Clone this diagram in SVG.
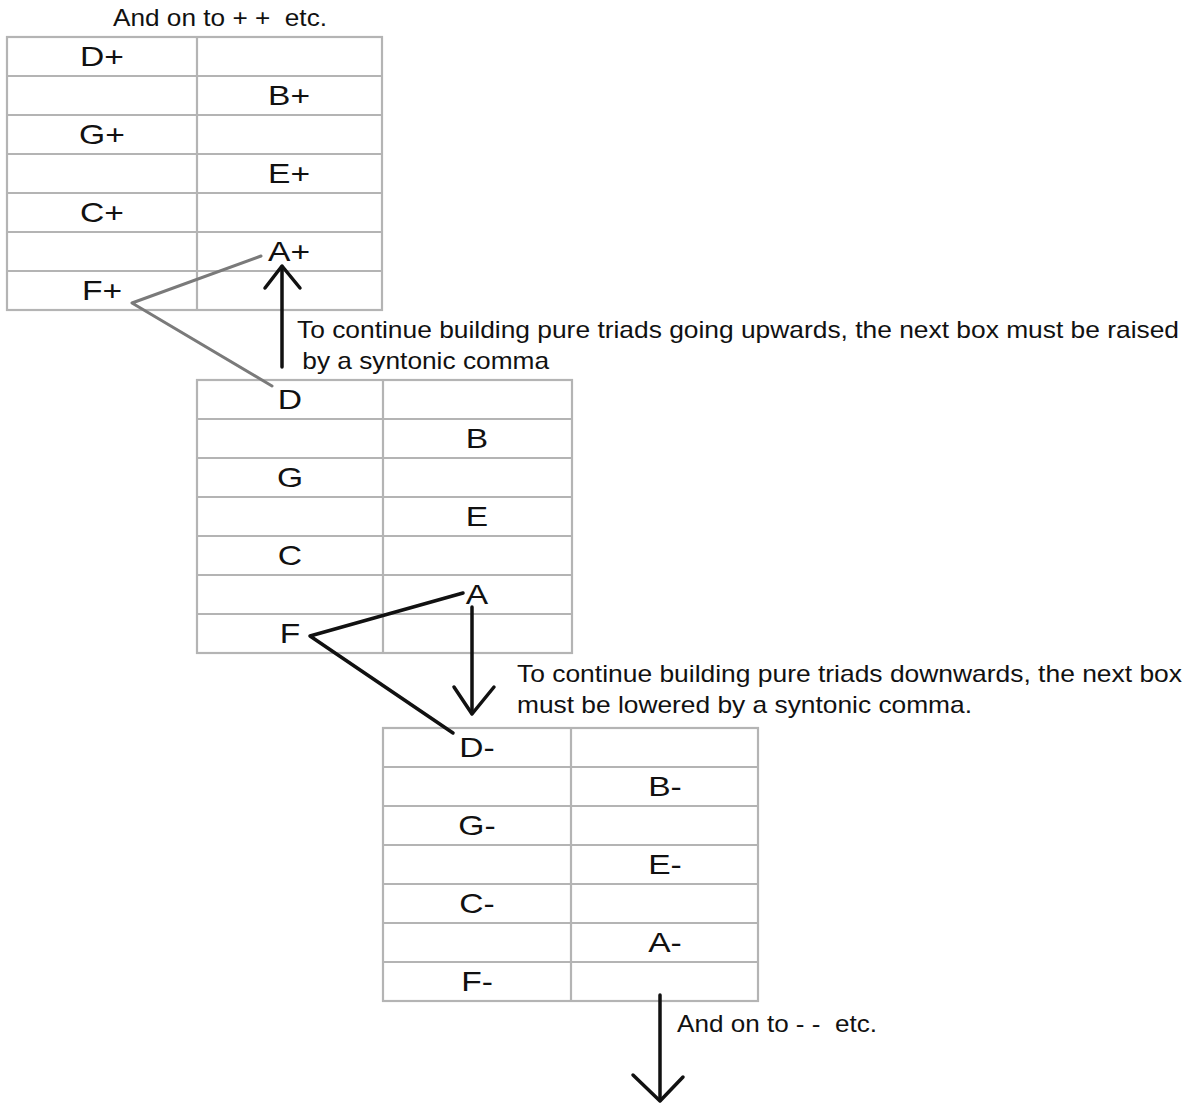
<svg xmlns="http://www.w3.org/2000/svg" width="1192" height="1108" viewBox="0 0 1192 1108">
<style>
.grid{fill:none;stroke:#b4b4b4;stroke-width:2.2}
.lbl{font-family:"Liberation Sans",Arial,sans-serif;font-size:28px;fill:#111;text-anchor:middle}
.txt{font-family:"Liberation Sans",Arial,sans-serif;font-size:24px;fill:#111}
.conn{fill:none;stroke-linecap:round;stroke-linejoin:round}
</style>
<defs>
<g id="tbl">
<rect class="grid" x="0" y="0" width="375" height="273"/>
<line class="grid" x1="0" y1="39" x2="375" y2="39"/>
<line class="grid" x1="0" y1="78" x2="375" y2="78"/>
<line class="grid" x1="0" y1="117" x2="375" y2="117"/>
<line class="grid" x1="0" y1="156" x2="375" y2="156"/>
<line class="grid" x1="0" y1="195" x2="375" y2="195"/>
<line class="grid" x1="0" y1="234" x2="375" y2="234"/>
</g>
</defs>
<rect width="1192" height="1108" fill="#fff"/>

<g id="box-plus" transform="translate(7,37)">
<use href="#tbl"/>
<line class="grid" x1="190" y1="0" x2="190" y2="273"/>
<text class="lbl" x="95" y="29" textLength="43.9" lengthAdjust="spacingAndGlyphs">D+</text>
<text class="lbl" x="282" y="68" textLength="42" lengthAdjust="spacingAndGlyphs">B+</text>
<text class="lbl" x="95" y="107" textLength="45.8" lengthAdjust="spacingAndGlyphs">G+</text>
<text class="lbl" x="282" y="146" textLength="42" lengthAdjust="spacingAndGlyphs">E+</text>
<text class="lbl" x="95" y="185" textLength="43.9" lengthAdjust="spacingAndGlyphs">C+</text>
<text class="lbl" x="282" y="224" textLength="42" lengthAdjust="spacingAndGlyphs">A+</text>
<text class="lbl" x="95" y="263" textLength="40.2" lengthAdjust="spacingAndGlyphs">F+</text>
</g>

<g id="box-natural" transform="translate(197,380)">
<use href="#tbl"/>
<line class="grid" x1="186" y1="0" x2="186" y2="273"/>
<text class="lbl" x="93" y="28.5" textLength="24.3" lengthAdjust="spacingAndGlyphs">D</text>
<text class="lbl" x="280" y="67.5" textLength="22.4" lengthAdjust="spacingAndGlyphs">B</text>
<text class="lbl" x="93" y="106.5" textLength="26.1" lengthAdjust="spacingAndGlyphs">G</text>
<text class="lbl" x="280" y="145.5" textLength="22.4" lengthAdjust="spacingAndGlyphs">E</text>
<text class="lbl" x="93" y="184.5" textLength="24.3" lengthAdjust="spacingAndGlyphs">C</text>
<text class="lbl" x="280" y="223.5" textLength="22.4" lengthAdjust="spacingAndGlyphs">A</text>
<text class="lbl" x="93" y="262.5" textLength="20.5" lengthAdjust="spacingAndGlyphs">F</text>
</g>

<g id="box-minus" transform="translate(383,728)">
<use href="#tbl"/>
<line class="grid" x1="188" y1="0" x2="188" y2="273"/>
<text class="lbl" x="94" y="29" textLength="35.4" lengthAdjust="spacingAndGlyphs">D-</text>
<text class="lbl" x="282" y="68" textLength="33.6" lengthAdjust="spacingAndGlyphs">B-</text>
<text class="lbl" x="94" y="107" textLength="37.3" lengthAdjust="spacingAndGlyphs">G-</text>
<text class="lbl" x="282" y="146" textLength="33.6" lengthAdjust="spacingAndGlyphs">E-</text>
<text class="lbl" x="94" y="185" textLength="35.4" lengthAdjust="spacingAndGlyphs">C-</text>
<text class="lbl" x="282" y="224" textLength="33.6" lengthAdjust="spacingAndGlyphs">A-</text>
<text class="lbl" x="94" y="263" textLength="31.7" lengthAdjust="spacingAndGlyphs">F-</text>
</g>

<g id="connectors">
<polyline class="conn" points="261,256 132,303 272,386" stroke="#7a7a7a" stroke-width="3"/>
<polyline class="conn" points="463,593 310,636 453,733" stroke="#111" stroke-width="3.5"/>
<line class="conn" x1="282" y1="367" x2="282" y2="267" stroke="#111" stroke-width="3.5"/>
<polyline class="conn" points="265,288 282,266 300,288" stroke="#111" stroke-width="3.5"/>
<line class="conn" x1="472" y1="607" x2="472" y2="713" stroke="#111" stroke-width="3.5"/>
<polyline class="conn" points="454,687 472,714 494,687" stroke="#111" stroke-width="3.5"/>
<line class="conn" x1="660" y1="995" x2="660" y2="1100" stroke="#111" stroke-width="3.5"/>
<polyline class="conn" points="633,1075 660,1101 683,1077" stroke="#111" stroke-width="3.5"/>
</g>

<g id="notes">
<text class="txt" x="113" y="26" xml:space="preserve" textLength="214" lengthAdjust="spacingAndGlyphs">And on to + +  etc.</text>
<text class="txt" x="297" y="338" textLength="882" lengthAdjust="spacingAndGlyphs">To continue building pure triads going upwards, the next box must be raised</text>
<text class="txt" x="295" y="369" xml:space="preserve" textLength="254" lengthAdjust="spacingAndGlyphs"> by a syntonic comma</text>
<text class="txt" x="517" y="682" textLength="665" lengthAdjust="spacingAndGlyphs">To continue building pure triads downwards, the next box</text>
<text class="txt" x="517" y="713" textLength="455" lengthAdjust="spacingAndGlyphs">must be lowered by a syntonic comma.</text>
<text class="txt" x="677" y="1032" xml:space="preserve" textLength="200" lengthAdjust="spacingAndGlyphs">And on to - -  etc.</text>
</g>
</svg>
